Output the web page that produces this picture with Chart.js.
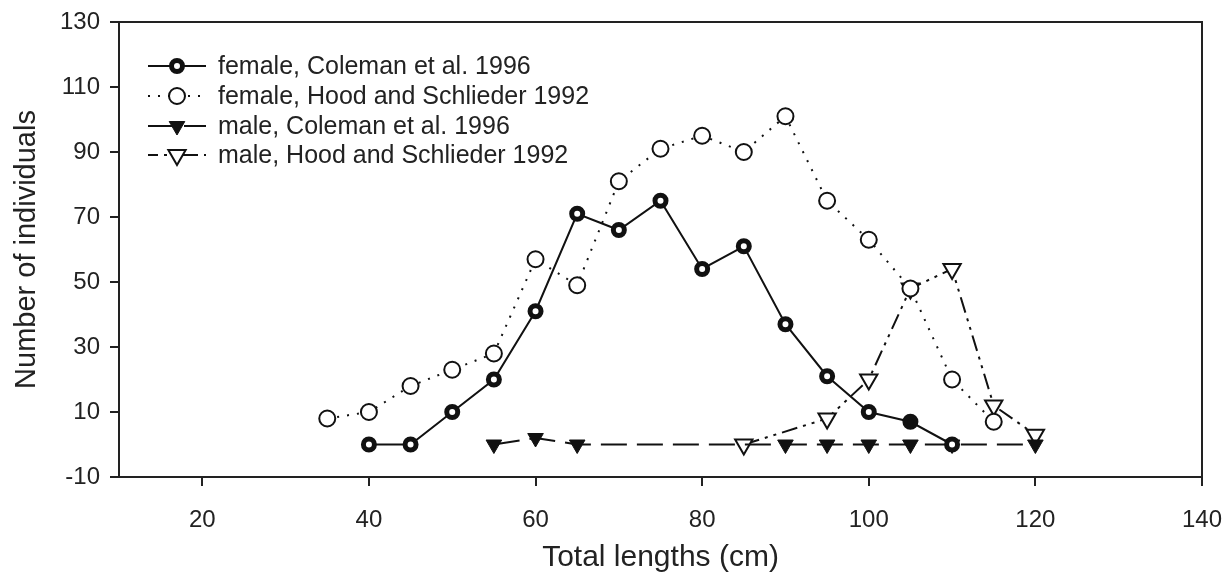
<!DOCTYPE html>
<html>
<head>
<meta charset="utf-8">
<script src="https://cdn.jsdelivr.net/npm/chart.js@4/dist/chart.umd.min.js"></script>
<style>
  html, body { margin: 0; padding: 0; background: #fff; }
  #wrap { width: 1228px; height: 579px; position: relative; }
</style>
</head>
<body>
<div id="wrap"><canvas id="c" width="1228" height="579"></canvas></div>
<script>
// ---- data ----
const femaleColemanX = [40, 45, 50, 55, 60, 65, 70, 75, 80, 85, 90, 95, 100, 105, 110];
const femaleColemanY = [0, 0, 10, 20, 41, 71, 66, 75, 54, 61, 37, 21, 10, 7, 0];

const femaleHoodX = [35, 40, 45, 50, 55, 60, 65, 70, 75, 80, 85, 90, 95, 100, 105, 110, 115];
const femaleHoodY = [8, 10, 18, 23, 28, 57, 49, 81, 91, 95, 90, 101, 75, 63, 48, 20, 7];

const maleColemanX = [55, 60, 65, 90, 95, 100, 105, 110, 120];
const maleColemanY = [0, 2, 0, 0, 0, 0, 0, 0, 0];

const maleHoodX = [85, 95, 100, 105, 110, 115, 120];
const maleHoodY = [0, 8, 20, 48, 54, 12, 3];

const seriesLabels = [
  'female, Coleman et al. 1996',
  'female, Hood and Schlieder 1992',
  'male, Coleman et al. 1996',
  'male, Hood and Schlieder 1992'
];
const yTicks = [-10, 10, 30, 50, 70, 90, 110, 130];
const xTicks = [20, 40, 60, 80, 100, 120, 140];

const FONT = '"Liberation Sans", Arial, sans-serif';

function pts(xs, ys) { return xs.map((x, i) => ({ x: x, y: ys[i] })); }

const frame = {
  id: 'frame',
  afterDatasetsDraw(chart) {
    const a = chart.chartArea, ctx = chart.ctx;
    ctx.save();
    ctx.strokeStyle = '#222';
    ctx.lineWidth = 2;
    ctx.strokeRect(a.left, a.top, a.right - a.left, a.bottom - a.top);
    ctx.restore();
  }
};

const legendBox = {
  id: 'legendBox',
  afterDraw(chart) {
    const ctx = chart.ctx;
    const rows = [66, 96, 126, 155];
    const offsets = [0, 0, 0, 6];
    ctx.save();
    chart.data.datasets.forEach((ds, i) => {
      const y = rows[i];
      ctx.strokeStyle = '#111';
      ctx.lineWidth = ds.borderWidth;
      ctx.setLineDash(ds.borderDash || []);
      ctx.lineDashOffset = offsets[i];
      ctx.lineCap = 'butt';
      ctx.beginPath();
      ctx.moveTo(148, y);
      ctx.lineTo(206, y);
      ctx.stroke();
      ctx.setLineDash([]);
      ctx.fillStyle = ds.pointStyle === 'triangle' ? (i === 2 ? '#111' : '#fff') : '#fff';
      ctx.strokeStyle = '#111';
      ctx.lineWidth = ds.pointBorderWidth;
      ctx.beginPath();
      if (ds.pointStyle === 'circle') {
        ctx.arc(177, y, ds.pointRadius, 0, Math.PI * 2);
      } else {
        const r = ds.pointRadius;
        ctx.moveTo(177, y + r);
        ctx.lineTo(177 - r * 0.866, y - r / 2);
        ctx.lineTo(177 + r * 0.866, y - r / 2);
        ctx.closePath();
      }
      ctx.fill();
      ctx.stroke();
      ctx.fillStyle = '#222';
      ctx.font = '25px ' + FONT;
      ctx.textBaseline = 'middle';
      ctx.textAlign = 'left';
      ctx.fillText(seriesLabels[i], 218, y + 1);
    });
    ctx.restore();
  }
};

new Chart(document.getElementById('c'), {
  type: 'line',
  data: {
    datasets: [
      {
        label: seriesLabels[0],
        data: pts(femaleColemanX, femaleColemanY),
        borderColor: '#111', borderWidth: 2,
        pointStyle: 'circle', pointRadius: 5.5, pointBorderWidth: 5,
        pointBackgroundColor: (c) => (c.raw && c.raw.x === 105 ? '#111' : '#fff'),
        pointBorderColor: '#111'
      },
      {
        label: seriesLabels[1],
        data: pts(femaleHoodX, femaleHoodY),
        borderColor: '#111', borderWidth: 2, borderDash: [2, 8],
        pointStyle: 'circle', pointRadius: 8, pointBorderWidth: 2,
        pointBackgroundColor: '#fff', pointBorderColor: '#111'
      },
      {
        label: seriesLabels[2],
        data: pts(maleColemanX, maleColemanY),
        borderColor: '#111', borderWidth: 2, borderDash: [26, 10],
        pointStyle: 'triangle', pointRotation: 180, pointRadius: 9, pointBorderWidth: 1,
        pointBackgroundColor: '#111', pointBorderColor: '#111'
      },
      {
        label: seriesLabels[3],
        data: pts(maleHoodX, maleHoodY),
        borderColor: '#111', borderWidth: 2, borderDash: [16, 6, 3, 6, 3, 6],
        pointStyle: 'triangle', pointRotation: 180, pointRadius: 10, pointBorderWidth: 2,
        pointBackgroundColor: '#fff', pointBorderColor: '#111'
      }
    ]
  },
  options: {
    responsive: false,
    animation: false,
    layout: { padding: { top: 22, right: 26, left: 0, bottom: 0 } },
    plugins: { legend: { display: false }, tooltip: { enabled: false } },
    elements: { line: { tension: 0 } },
    scales: {
      x: {
        type: 'linear', min: 10, max: 140,
        afterFit(s) { s.height = 102; s.paddingLeft = 0; s.paddingRight = 0; },
        afterBuildTicks(s) { s.ticks = xTicks.map(v => ({ value: v })); },
        border: { display: true, color: '#222', width: 2 },
        grid: { drawOnChartArea: false, drawTicks: true, tickLength: 9, color: '#222', lineWidth: 2 },
        ticks: { color: '#222', padding: 20, maxRotation: 0, font: { family: FONT, size: 24 } },
        title: { display: true, text: 'Total lengths (cm)', color: '#222', font: { family: FONT, size: 30 }, padding: { top: 0, bottom: 3 } }
      },
      y: {
        type: 'linear', min: -10, max: 130,
        afterFit(s) { s.width = 119; s.paddingTop = 0; s.paddingBottom = 0; },
        afterBuildTicks(s) { s.ticks = yTicks.map(v => ({ value: v })); },
        border: { display: true, color: '#222', width: 2 },
        grid: { drawOnChartArea: false, drawTicks: true, tickLength: 9, color: '#222', lineWidth: 2 },
        ticks: { color: '#222', padding: 10, font: { family: FONT, size: 24 } },
        title: { display: true, text: 'Number of individuals', color: '#222', font: { family: FONT, size: 29 }, padding: { top: 10, bottom: 0 } }
      }
    }
  },
  plugins: [frame, legendBox]
});
</script>
</body>
</html>
